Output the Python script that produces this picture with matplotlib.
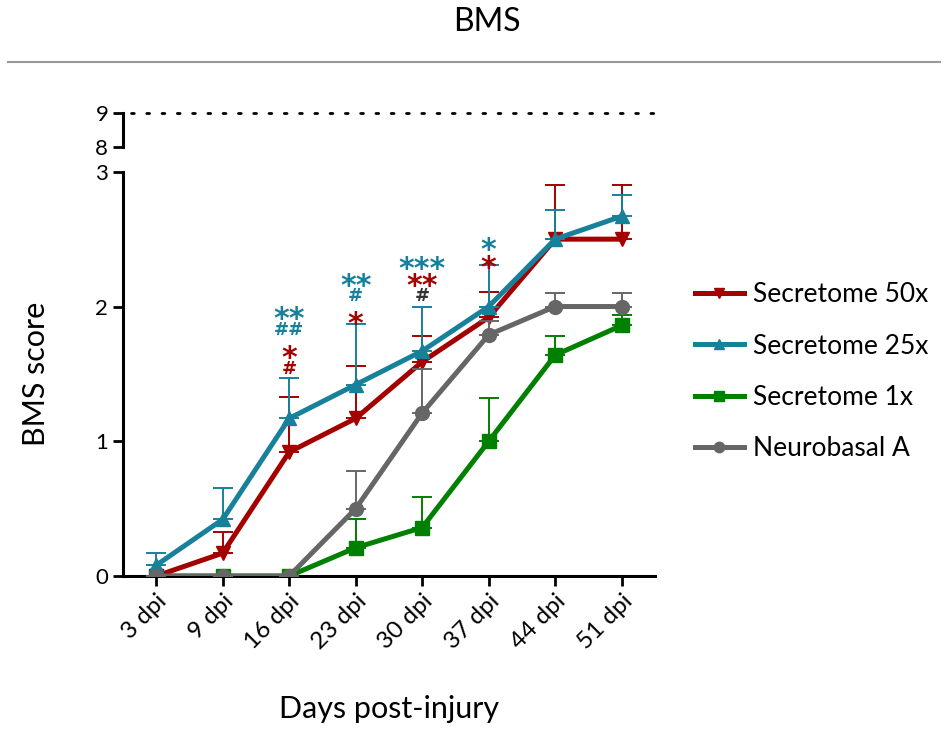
import numpy as np
import matplotlib.pyplot as plt

plt.rcParams['font.family'] = ['Lato', 'DejaVu Sans']

days = ['3 dpi', '9 dpi', '16 dpi', '23 dpi', '30 dpi', '37 dpi', '44 dpi', '51 dpi']

sec50_mean = [0.0, 0.17, 0.92, 1.17, 1.59, 1.92, 2.50, 2.50]
sec50_sem = [0.0, 0.16, 0.41, 0.39, 0.19, 0.19, 0.40, 0.40]
sec25_mean = [0.08, 0.42, 1.17, 1.42, 1.67, 2.00, 2.50, 2.67]
sec25_sem = [0.09, 0.23, 0.30, 0.45, 0.33, 0.31, 0.22, 0.16]
sec1_mean = [0.0, 0.0, 0.0, 0.21, 0.36, 1.00, 1.64, 1.86]
sec1_sem = [0.0, 0.0, 0.0, 0.21, 0.23, 0.32, 0.14, 0.08]
nb_mean = [0.0, 0.0, 0.0, 0.50, 1.21, 1.79, 2.00, 2.00]
nb_sem = [0.0, 0.0, 0.0, 0.28, 0.33, 0.10, 0.10, 0.10]

red = '#a50000'
teal = '#17819c'
green = '#008000'
grey = '#666666'

# significance marks: (day index, y, text, colour)
marks = [
    (2, 1.55, '#', red), (2, 1.69, '*', red), (2, 1.84, '##', teal), (2, 1.98, '**', teal),
    (3, 1.94, '*', red), (3, 2.09, '#', teal), (3, 2.22, '**', teal),
    (4, 2.09, '#', '#333333'), (4, 2.22, '**', red), (4, 2.35, '***', teal),
    (5, 2.36, '*', red), (5, 2.49, '*', teal),
]

fig = plt.figure(figsize=(9.48, 7.31), dpi=100)
ax = fig.add_axes([0.1297, 0.212, 0.5612, 0.553])
axt = fig.add_axes([0.1297, 0.799, 0.5612, 0.0465])

x = np.arange(len(days))
series = [
    ('Secretome 1x', sec1_mean, sec1_sem, green, 's', 2),
    ('Secretome 50x', sec50_mean, sec50_sem, red, 'v', 3),
    ('Secretome 25x', sec25_mean, sec25_sem, teal, '^', 4),
    ('Neurobasal A', nb_mean, nb_sem, grey, 'o', 5),
]
handles = {}
for name, m, s, c, mk, z in series:
    m = np.array(m)
    s = np.array(s)
    ax.errorbar(x, m, yerr=[np.zeros_like(s), s], fmt='none', ecolor=c,
                elinewidth=1.4, capsize=7, capthick=1.4, zorder=z)
    h, = ax.plot(x, m, color=c, lw=3.6, marker=mk, ms=10, zorder=z + 0.5)
    handles[name] = h

# stars and hashes, baseline shifted so the glyph ink is centred on y
for i, y, t, c in marks:
    if '*' in t:
        fs, off = 21.5, -0.62
    else:
        fs, off = 13, -0.36
    ax.annotate(t, (i, y), xytext=(0, off * fs), textcoords='offset points',
                color=c, fontsize=fs, ha='center', va='baseline',
                fontweight='bold', family='DejaVu Sans', zorder=6)

ax.set_xlim(-0.5, 7.5)
ax.set_ylim(0, 3)
ax.set_yticks([0, 1, 2, 3])
ax.set_xticks(x)
ax.set_xticklabels(days, rotation=45, ha='right', rotation_mode='anchor')
ax.tick_params(axis='y', labelsize=16, width=2, length=7)
ax.tick_params(axis='x', labelsize=17.5, width=2, length=7)
for sp in ['top', 'right']:
    ax.spines[sp].set_visible(False)
for sp in ['left', 'bottom']:
    ax.spines[sp].set_linewidth(2.2)
ax.spines['left'].set_bounds(0, 3)

axt.set_xlim(-0.5, 7.5)
axt.set_ylim(8, 9)
axt.set_yticks([8, 9])
axt.set_xticks([])
axt.tick_params(labelsize=16, width=2, length=7)
for sp in ['top', 'right', 'bottom']:
    axt.spines[sp].set_visible(False)
axt.spines['left'].set_linewidth(2.2)
axt.axhline(9, xmin=0.015, xmax=1.0, color='black', lw=2, ls=(0, (1, 4.5)),
            dash_capstyle='round', clip_on=False)
axt.patch.set_visible(False)

ax.set_ylabel('BMS score', fontsize=22)
ax.yaxis.set_label_coords(-0.137, 0.5)
ax.set_xlabel('Days post-injury', fontsize=22)
ax.xaxis.set_label_coords(0.5, -0.295)

ax.legend([handles['Secretome 50x'], handles['Secretome 25x'],
           handles['Secretome 1x'], handles['Neurobasal A']],
          ['Secretome 50x', 'Secretome 25x', 'Secretome 1x', 'Neurobasal A'],
          loc='center left', bbox_to_anchor=(1.03, 0.505), frameon=False,
          fontsize=19, handlelength=1.85, handletextpad=0.35, labelspacing=1.0,
          markerscale=0.75)

fig.text(0.514, 0.97, 'BMS', fontsize=23, ha='center', va='center')
fig.add_artist(plt.Line2D([0.008, 0.992], [0.915, 0.915], color='#999999', lw=1.5))

fig.savefig('out.png', dpi=100)
